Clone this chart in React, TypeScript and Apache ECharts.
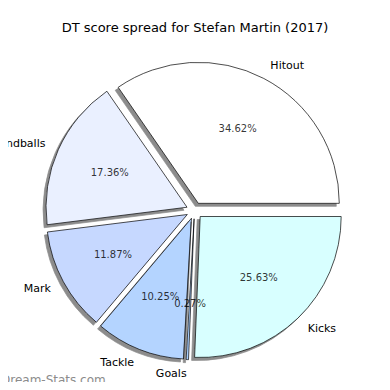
import React, { useEffect, useRef } from "react";
import * as echarts from "echarts";

const categories = ["Hitout", "Handballs", "Mark", "Tackle", "Goals", "Kicks"];
const values = [34.62, 17.36, 11.87, 10.25, 0.27, 25.63];
const pctLabels = ["34.62%", "17.36%", "11.87%", "10.25%", "0.27%", "25.63%"];
const colors = ["#ffffff", "#eaf0ff", "#c6d8ff", "#b4d4ff", "#a8cfff", "#d8ffff"];

export default function App() {
  const ref = useRef<HTMLDivElement>(null);
  useEffect(() => {
    if (!ref.current) return;
    const chart = echarts.init(ref.current, undefined, { renderer: "svg" });
    const R = 141;
    const explode = 8.2;
    const center = [194.5, 210.6];
    const font = "DejaVu Sans";
    const total = values.reduce((a, b) => a + b, 0);
    let cum = 0;
    const pctPoints = values.map((v, i) => {
      const mid = cum + v / 2;
      cum += v;
      return { value: [0.6 + explode / R, (mid / total) * 100], name: pctLabels[i] };
    });
    chart.setOption({
      animation: false,
      title: {
        text: "DT score spread for Stefan Martin (2017)",
        left: "center",
        top: 16,
        textStyle: { fontSize: 13, fontWeight: "normal", color: "#000", fontFamily: font },
      },
      polar: { center, radius: R },
      angleAxis: {
        type: "value",
        min: 0,
        max: 100,
        startAngle: 0,
        clockwise: false,
        show: false,
      },
      radiusAxis: { type: "value", min: 0, max: 1, show: false },
      graphic: [
        {
          type: "text",
          x: 1,
          y: 380,
          style: {
            text: "Dream-Stats.com",
            fontSize: 12,
            fill: "#8c8c8c",
            fontFamily: font,
            align: "left",
            verticalAlign: "middle",
          },
        },
      ],
      series: [
        {
          type: "pie",
          center,
          radius: [0, R],
          startAngle: 0,
          clockwise: false,
          avoidLabelOverlap: false,
          selectedMode: "multiple",
          selectedOffset: explode,
          emphasis: { disabled: true, scale: false },
          itemStyle: {
            borderColor: "#000",
            borderWidth: 0.7,
            shadowColor: "rgba(0,0,0,0.45)",
            shadowBlur: 0,
            shadowOffsetX: -3,
            shadowOffsetY: 3,
          },
          label: {
            show: true,
            position: "outside",
            formatter: "{b}",
            fontSize: 11,
            color: "#000",
            fontFamily: font,
            distanceToLabelLine: 0,
          },
          labelLine: { show: false, length: 14.1, length2: 0 },
          data: categories.map((c, i) => ({
            name: c,
            value: values[i],
            selected: true,
            itemStyle: { color: colors[i] },
          })),
        },
        {
          type: "scatter",
          coordinateSystem: "polar",
          symbolSize: 1,
          silent: true,
          z: 5,
          itemStyle: { color: "rgba(0,0,0,0)" },
          label: {
            show: true,
            position: "inside",
            formatter: (p: any) => p.name,
            fontSize: 10,
            color: "#000",
            fontFamily: font,
          },
          data: pctPoints,
        },
      ],
    });
    return () => chart.dispose();
  }, []);
  return <div ref={ref} style={{ width: 390, height: 390, margin: -8 }} />;
}
